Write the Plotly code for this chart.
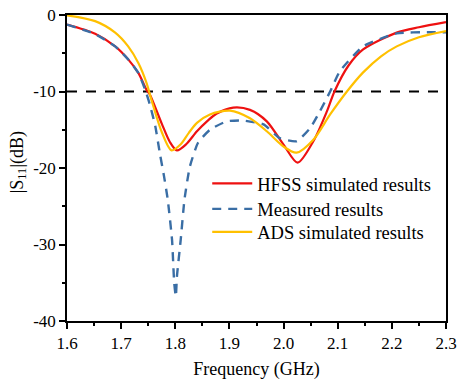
import plotly.graph_objects as go

# ---- data ----
hfss_f = [1.60, 1.652, 1.689, 1.713, 1.732, 1.747, 1.753, 1.775, 1.79, 1.803, 1.82, 1.84, 1.86, 1.876, 1.907, 1.938,
          1.969, 2.00, 2.026, 2.055, 2.08, 2.094, 2.12, 2.147, 2.209, 2.25, 2.30]
hfss_db = [-1.25, -2.45, -4.1, -5.8, -7.6, -9.8, -10.4, -14.2, -16.6, -17.7, -16.9, -15.2, -13.8, -12.9, -12.1, -12.4,
           -13.9, -16.95, -19.3, -16.5, -12.6, -10.0, -6.6, -4.5, -2.3, -1.6, -0.94]

meas_f = [1.60, 1.652, 1.689, 1.713, 1.732, 1.745, 1.753, 1.763, 1.772, 1.779, 1.786, 1.794, 1.798, 1.801,
          1.803, 1.810, 1.817, 1.827, 1.842, 1.864, 1.895, 1.926, 1.963, 1.993, 2.024, 2.049, 2.067, 2.086,
          2.104, 2.147, 2.209, 2.27, 2.30]
meas_db = [-1.25, -2.5, -4.1, -5.8, -7.6, -9.9, -11.7, -14.5, -18.3, -21.0, -24.1, -29.4, -35.0, -36.8,
           -34.2, -29.4, -24.1, -19.8, -16.7, -15.0, -13.9, -13.8, -14.3, -16.1, -16.5, -14.8, -12.6, -10.0,
           -7.35, -4.1, -2.4, -2.25, -2.25]

ads_f = [1.60, 1.652, 1.689, 1.713, 1.732, 1.747, 1.756, 1.775, 1.793, 1.81, 1.825, 1.84, 1.864, 1.901, 1.938,
         1.969, 2.00, 2.024, 2.055, 2.086, 2.117, 2.147, 2.18, 2.209, 2.25, 2.30]
ads_db = [-0.05, -0.8, -2.3, -4.1, -6.3, -8.9, -11.1, -15.3, -17.7, -16.9, -15.4, -14.1, -13.0, -12.5, -13.5,
          -15.2, -17.2, -18.0, -16.3, -13.0, -10.0, -7.5, -5.4, -4.1, -2.9, -2.1]

threshold_f = [1.6, 2.3]
threshold_db = [-10, -10]

x_ticks = [1.6, 1.7, 1.8, 1.9, 2.0, 2.1, 2.2, 2.3]
x_ticklabels = ["1.6", "1.7", "1.8", "1.9", "2.0", "2.1", "2.2", "2.3"]
y_ticks = [0, -10, -20, -30, -40]
y_ticklabels = ["0", "-10", "-20", "-30", "-40"]

FONT = "'Liberation Serif', 'Times New Roman', Times, serif"

fig = go.Figure()
fig.add_trace(go.Scatter(x=threshold_f, y=threshold_db, mode="lines", showlegend=False,
                         line=dict(color="black", width=2, dash="10px,9px")))
fig.add_trace(go.Scatter(x=hfss_f, y=hfss_db, mode="lines", name="HFSS simulated results", legend="legend",
                         line=dict(color="#EE1111", width=2.2, shape="spline", smoothing=0.8)))
fig.add_trace(go.Scatter(x=meas_f, y=meas_db, mode="lines", name="Measured results", legend="legend2",
                         line=dict(color="#3A6EA5", width=2.4, dash="9px,7px", shape="spline", smoothing=0.5)))
fig.add_trace(go.Scatter(x=ads_f, y=ads_db, mode="lines", name="ADS simulated results", legend="legend3",
                         line=dict(color="#FFC000", width=2.2, shape="spline", smoothing=0.8)))

axis_common = dict(showline=True, linecolor="black", linewidth=1.5, mirror=True, showgrid=False,
                   zeroline=False, ticks="outside", ticklen=6, tickwidth=1.5, tickcolor="black",
                   automargin=False, tickfont=dict(family=FONT, size=17, color="black"))

fig.update_xaxes(range=[1.6, 2.3], tickmode="array", tickvals=x_ticks, ticktext=x_ticklabels,
                 minor=dict(tickmode="linear", tick0=1.6, dtick=0.05, ticks="outside", ticklen=3.5,
                            tickwidth=1.5, tickcolor="black"),
                 title=dict(text="Frequency (GHz)", font=dict(family=FONT, size=18, color="black"), standoff=10),
                 **axis_common)
fig.update_yaxes(range=[-40, 0], tickmode="array", tickvals=y_ticks, ticktext=y_ticklabels,
                 minor=dict(tickmode="linear", tick0=0, dtick=5, ticks="outside", ticklen=3.5,
                            tickwidth=1.5, tickcolor="black"),
                 **axis_common)

fig.add_annotation(text="|S<sub>11</sub>|(dB)", xref="paper", yref="paper", x=-0.128, y=0.52,
                   xanchor="center", yanchor="middle", textangle=-90, showarrow=False,
                   font=dict(family=FONT, size=18, color="black"))

leg_common = dict(x=0.370, xanchor="left", yanchor="middle", bgcolor="rgba(0,0,0,0)",
                  font=dict(family=FONT, size=18.5, color="black"), itemwidth=40)

fig.update_layout(
    width=457, height=380,
    font=dict(family=FONT, color="black"),
    margin=dict(l=67, r=11, t=15, b=59, autoexpand=False),
    paper_bgcolor="white", plot_bgcolor="white",
    legend=dict(y=0.448, **leg_common),
    legend2=dict(y=0.365, **leg_common),
    legend3=dict(y=0.290, **leg_common),
)

fig.write_html("out.html")
